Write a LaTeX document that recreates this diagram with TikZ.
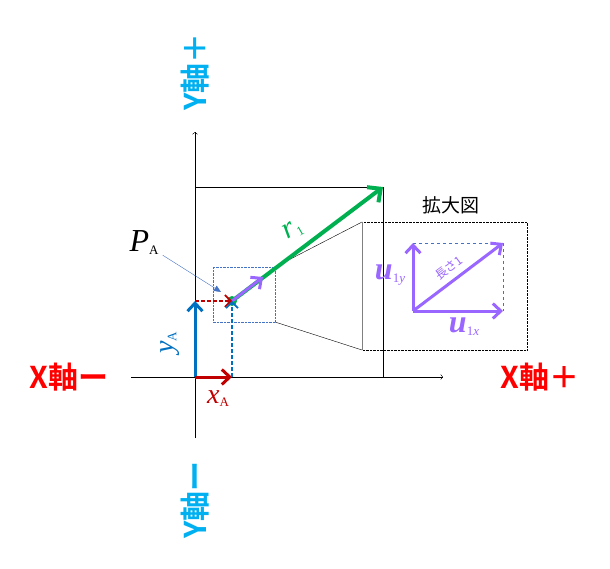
\documentclass[tikz,border=0pt]{standalone}
\usepackage{fontspec}
\setmainfont{Liberation Serif}
\newfontfamily\jpfont{Noto Sans CJK JP}[BoldFont = Noto Sans CJK JP Bold]
\usetikzlibrary{arrows.meta}
\newcommand\lowsub[1]{\raisebox{-3pt}{\fontsize{13}{13}\selectfont #1}}
\begin{document}
\begin{tikzpicture}[x = 1pt, y = -1pt,
  axislabel/.style = {font = \jpfont\bfseries\fontsize{30}{30}\selectfont, inner sep = 0pt},
  veclabel/.style = {font = \fontsize{28}{28}\selectfont, inner sep = 0pt},
  boldvec/.style = {line width = 3pt, -{Straight Barb[length = 8pt, width = 15pt]}},
  helpvec/.style = {line width = 1.6pt, dashed, dash pattern = on 4pt off 2pt, -{Straight Barb[length = 6pt, width = 12pt]}}]
\definecolor{axisred}{RGB}{255,0,0}
\definecolor{axiscyan}{RGB}{0,176,240}
\definecolor{vecred}{RGB}{192,0,0}
\definecolor{vecblue}{RGB}{0,112,192}
\definecolor{vecgreen}{RGB}{0,176,80}
\definecolor{vecpurple}{RGB}{153,102,255}
\definecolor{pointblue}{RGB}{68,114,196}
\useasboundingbox (0,0) rectangle (610,569);
\coordinate (O) at (195,377);
\coordinate (PA) at (232,301);
\coordinate (XA) at (232,377);
\coordinate (YA) at (195,301);
\coordinate (R) at (383,187);
\coordinate (U) at (263,277);
\coordinate (xl) at (131,377);
\coordinate (xr) at (443,377);
\coordinate (yb) at (195,438);
\coordinate (yt) at (195,132);
\coordinate (sa) at (213,267);
\coordinate (sb) at (275,322);
\coordinate (za) at (362,222);
\coordinate (zb) at (527,350);
\coordinate (M) at (413,311);
\coordinate (Mx) at (503,311);
\coordinate (My) at (413,243);
\coordinate (Mxy) at (503,243);
\coordinate (pto) at (221,292);
\draw [->] (xl) -- (xr);
\draw [->] (yb) -- (yt);
\draw (O |- R) -- (R) -- (R |- O);
\node [axislabel, text = axisred] (lblXminus) at (69,377) {X軸ー};
\node [axislabel, text = axisred] (lblXplus) at (540,377) {X軸＋};
\node [axislabel, text = axiscyan, rotate = 90] (lblYplus) at (195,72) {Y軸＋};
\node [axislabel, text = axiscyan, rotate = 90] (lblYminus) at (195,500) {Y軸ー};
\draw [pointblue, densely dotted] (sa) rectangle (sb);
\draw (sb |- sa) -- (za);
\draw (sb) -- (za |- zb);
\draw [densely dotted] (za) rectangle (zb);
\draw [gray] (za) -- (za |- zb);
\draw [vecgreen, line width = 4pt, -{Straight Barb[length = 10pt, width = 19pt]}] (PA) -- (R);
\fill [vecgreen] (PA) circle (5pt);
\draw [vecpurple, boldvec] (PA) -- (U);
\draw [vecblue, boldvec] (O) -- (YA);
\draw [vecred, boldvec] (O) -- (XA);
\draw [vecred, helpvec] (YA) -- (PA);
\draw [vecblue, helpvec] (XA) -- (PA);
\node [veclabel, text = vecred] (lblxa) at (218,399) {\textit{x}\lowsub{A}};
\node [veclabel, text = vecblue, rotate = 90] (lblya) at (170,343) {\textit{y}\lowsub{A}};
\node [veclabel, font = \fontsize{32}{32}\selectfont] (lblpa) at (144,243) {\textit{P}\lowsub{A}};
\draw [pointblue, -{Triangle[length = 7pt, width = 6pt]}] (lblpa.south east) ++(4,0) -- (pto);
\node [veclabel, font = \fontsize{30}{30}\selectfont, text = vecgreen, rotate = 30] (lblr) at (293,230) {\textit{r}\lowsub{1}};
\node [font = \jpfont\fontsize{19}{19}\selectfont, inner sep = 0pt] (lblzoom) at (451,205) {拡大図};
\draw [pointblue, dashed] (My) -- (Mxy) -- (Mx);
\draw [vecpurple, boldvec] (M) -- (My);
\draw [vecpurple, boldvec] (M) -- (Mx);
\draw [vecpurple, boldvec] (M) -- (Mxy);
\node [veclabel, font = \fontsize{32}{32}\selectfont, text = vecpurple] (lbluy) at (390,275) {\textbf{\textit{u}}\lowsub{1\textit{y}}};
\node [veclabel, font = \fontsize{32}{32}\selectfont, text = vecpurple] (lblux) at (464,327) {\textbf{\textit{u}}\lowsub{1\textit{x}}};
\node [font = \jpfont\fontsize{12}{12}\selectfont, text = vecpurple, rotate = 37, inner sep = 0pt] (lbllen) at (449,268) {長さ1};
\end{tikzpicture}
\end{document}
